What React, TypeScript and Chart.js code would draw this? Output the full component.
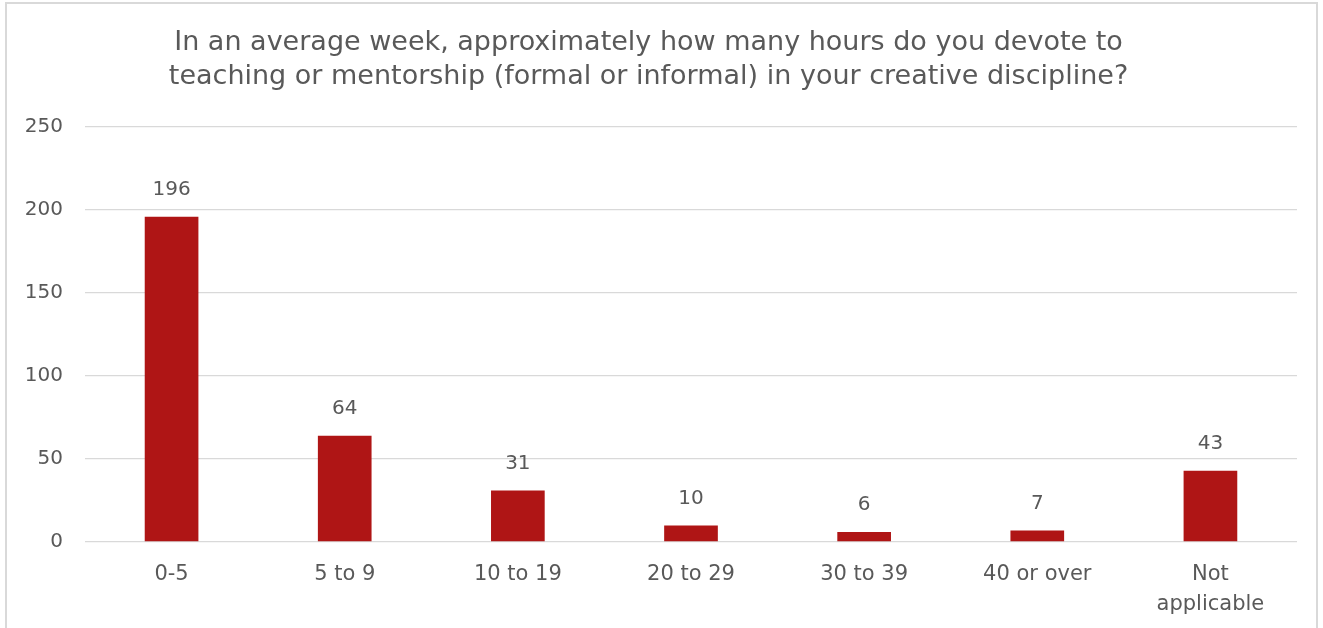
import React, { useEffect, useRef } from "react";
import { Chart, registerables } from "chart.js";

Chart.register(...registerables);

const categories: (string | string[])[] = ["0-5", "5 to 9", "10 to 19", "20 to 29", "30 to 39", "40 or over", ["Not", "applicable"]];
const counts: number[] = [196, 64, 31, 10, 6, 7, 43];
const titleLines: string[] = [
  "In an average week, approximately how many hours do you devote to",
  "teaching or mentorship (formal or informal) in your creative discipline?",
];

const FONT = "'DejaVu Sans', sans-serif";
const TEXT = "#595959";

const valueLabels = {
  id: "valueLabels",
  afterDatasetsDraw(chart: any) {
    const ctx = chart.ctx;
    const meta = chart.getDatasetMeta(0);
    ctx.save();
    ctx.font = "20px " + FONT;
    ctx.fillStyle = TEXT;
    ctx.textAlign = "center";
    ctx.textBaseline = "middle";
    meta.data.forEach((bar: any, i: number) => {
      ctx.fillText(String(counts[i]), bar.x, bar.y - 27);
    });
    ctx.restore();
  },
};

export default function App() {
  const ref = useRef<HTMLCanvasElement>(null);
  useEffect(() => {
    if (!ref.current) return;
    const chart = new Chart(ref.current, {
      type: "bar",
      data: {
        labels: categories,
        datasets: [
          {
            data: counts,
            backgroundColor: "#AF1515",
            borderWidth: 0,
            barPercentage: 0.31,
            categoryPercentage: 1,
          },
        ],
      },
      options: {
        animation: false,
        responsive: false,
        maintainAspectRatio: false,
        layout: { padding: { left: 0, right: 26, top: 0, bottom: 0 } },
        plugins: {
          legend: { display: false },
          tooltip: { enabled: false },
          title: {
            display: true,
            text: titleLines,
            color: TEXT,
            font: { family: FONT, size: 27, weight: "normal", lineHeight: 1.26 },
            padding: { top: 26, bottom: 33 },
          },
        },
        scales: {
          x: {
            grid: { display: false, drawTicks: false },
            border: { display: false },
            ticks: {
              color: TEXT,
              font: { family: FONT, size: 21, lineHeight: 1.4 },
              padding: 18,
              maxRotation: 0,
              autoSkip: false,
            },
            afterFit(scale: any) {
              scale.height = 86;
            },
          },
          y: {
            min: 0,
            max: 250,
            grid: { color: "#D9D9D9", drawTicks: false, lineWidth: 1.3 },
            border: { display: false },
            ticks: {
              stepSize: 50,
              color: TEXT,
              font: { family: FONT, size: 20 },
              padding: 22,
            },
            afterFit(scale: any) {
              scale.width = 85;
            },
          },
        },
      },
      plugins: [valueLabels],
    });
    return () => chart.destroy();
  }, []);

  return (
    <div style={{ position: "absolute", left: 0, top: 0, width: 1323, height: 628, background: "#fff", overflow: "hidden" }}>
      <div
        style={{
          position: "absolute",
          left: 5,
          top: 2,
          width: 1313,
          height: 700,
          border: "2px solid #D9D9D9",
          boxSizing: "border-box",
        }}
      />
      <canvas ref={ref} width={1323} height={628} style={{ position: "absolute", left: 0, top: 0 }} />
    </div>
  );
}
